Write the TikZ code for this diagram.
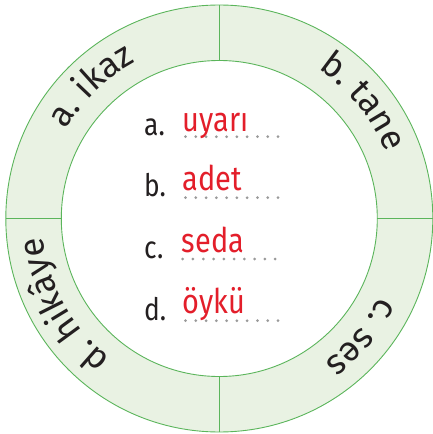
\documentclass[tikz,border=0pt]{standalone}
\usepackage{fontspec}
\setmainfont{Fira Sans}
\newfontfamily\ringfont{Fira Sans}
\newfontfamily\wordfont[FakeStretch=0.85]{Fira Sans}
\usetikzlibrary{decorations.text}
\definecolor{ringfill}{HTML}{E9F2E3}
\definecolor{ringline}{HTML}{5BB55B}
\definecolor{wordred}{HTML}{E31E2A}
\definecolor{ink}{HTML}{231F20}
\definecolor{dotgray}{HTML}{9A9A9A}
\tikzset{
  ringcircle/.style={circle, draw=ringline, line width=0.9pt, inner sep=0pt, outer sep=0pt},
  divider/.style={draw=ringline, line width=1.2pt},
  letterlabel/.style={anchor=base west, inner sep=0pt, text=ink, font=\wordfont\fontsize{31}{36}\selectfont},
  answer/.style={anchor=base west, inner sep=0pt, text=wordred, font=\wordfont\fontsize{34}{40}\selectfont},
  dotline/.style={dotgray, line width=3pt, line cap=round, dash pattern=on 0pt off 10.28pt},
  ringtext/.style={decorate, decoration={text along path, text align=center, text={|\ringfont\fontsize{35}{40}\selectfont\color{ink}|#1}}}
}
\begin{document}
\begin{tikzpicture}[x=1pt,y=1pt]
\useasboundingbox (-219.3,-215.5) rectangle (213.7,218.5);
\node[ringcircle, fill=ringfill, minimum size=427pt] (outer) at (0,0) {};
\node[ringcircle, fill=white, minimum size=316pt] (inner) at (0,0) {};
\draw[divider] (outer.north) -- (inner.north);
\draw[divider] (outer.south) -- (inner.south);
\draw[divider] (outer.east) -- (inner.east);
\draw[divider] (outer.west) -- (inner.west);
% ring words
\path[ringtext={a. ikaz}] (174:177) arc[start angle=174, end angle=94, radius=177];
\path[ringtext={b. tane}] (79:179) arc[start angle=79, end angle=-1, radius=179];
\path[ringtext={c. ses}] (0:178) arc[start angle=0, end angle=-80, radius=178];
\path[ringtext={d. hikâye}] (249:177) arc[start angle=249, end angle=169, radius=177];
% centre list
\node[letterlabel] (la) at (-75.3,82.5) {a.};
\node[letterlabel] (lb) at (-75.3,21.8) {b.};
\node[letterlabel] (lc) at (-75.3,-39.8) {c.};
\node[letterlabel] (ld) at (-75.3,-101.5) {d.};
\node[answer] (wa) at (-36.6,86.8) {uyarı};
\node[answer] (wb) at (-36.6,27.5) {adet};
\node[answer] (wc) at (-37.5,-33.8) {seda};
\node[answer] (wd) at (-36.6,-94.8) {öykü};
\draw[dotline] (-33.8,81.8) -- (59.5,81.8);
\draw[dotline] (-33.8,20.8) -- (59.5,20.8);
\draw[dotline] (-36.6,-40.5) -- (56.7,-40.5);
\draw[dotline] (-33.8,-102.2) -- (59.5,-102.2);
\end{tikzpicture}
\end{document}
